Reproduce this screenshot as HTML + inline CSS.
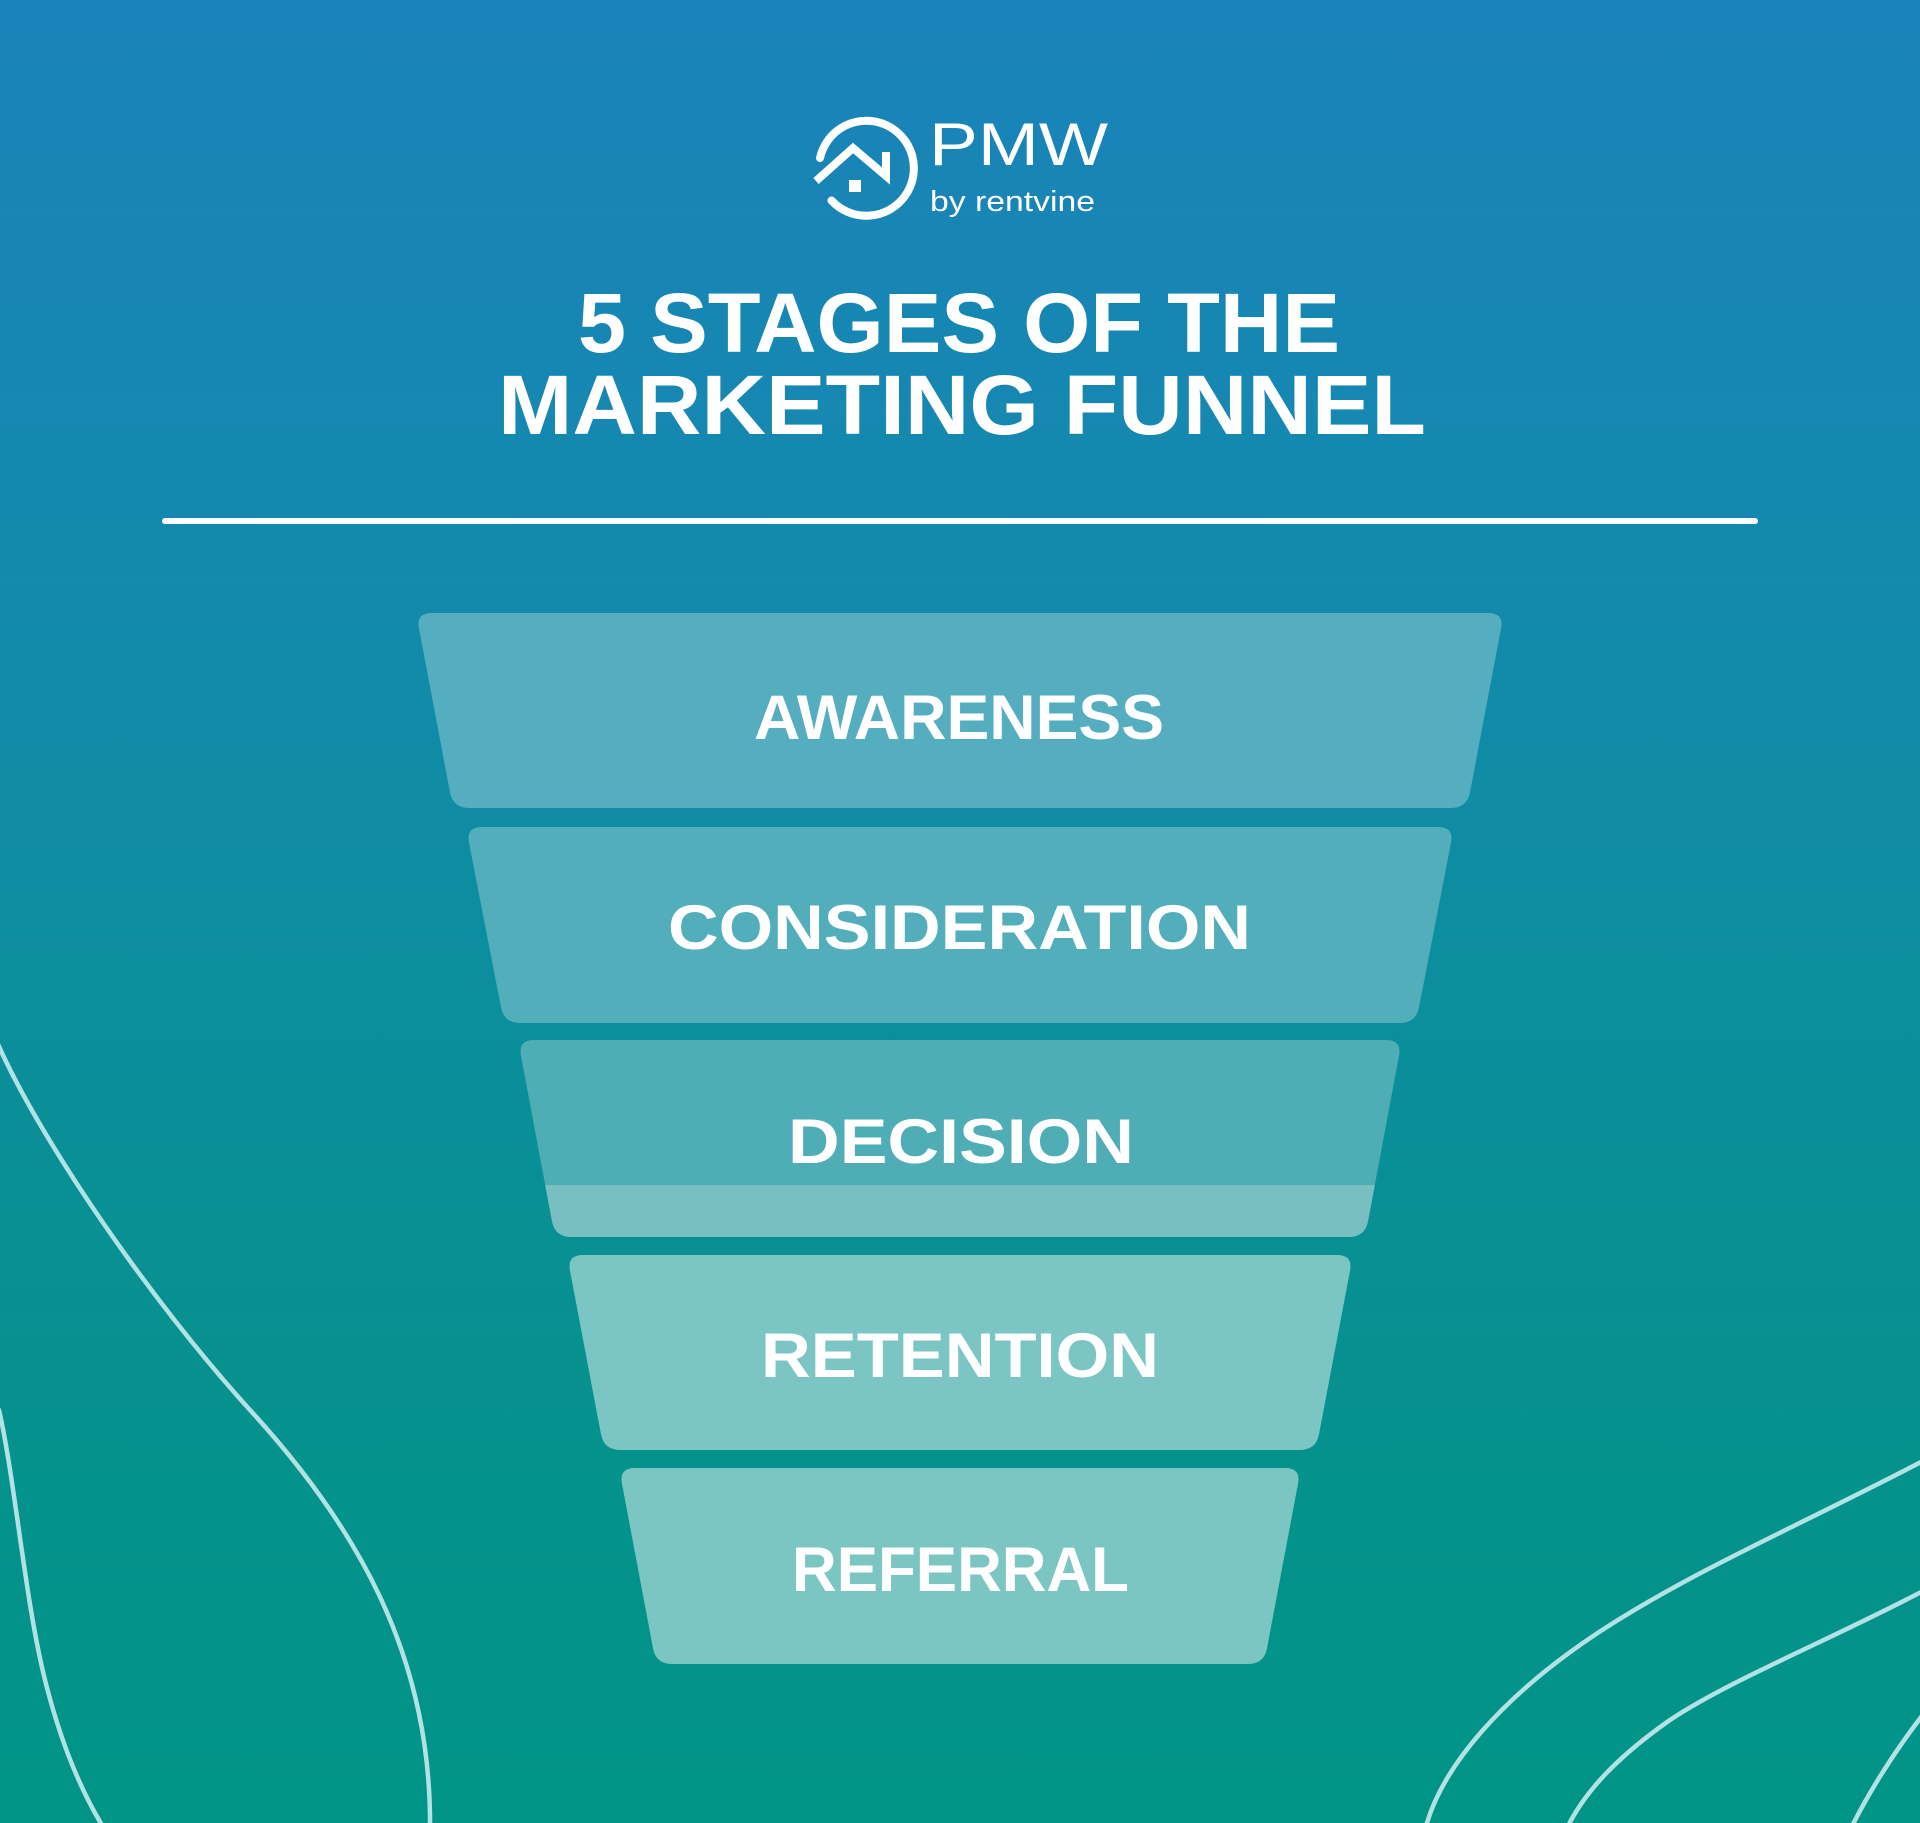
<!DOCTYPE html>
<html>
<head>
<meta charset="utf-8">
<style>
html,body{margin:0;padding:0;width:1920px;height:1823px;overflow:hidden;}
svg{display:block;}
</style>
</head>
<body>
<svg width="1920" height="1823" viewBox="0 0 1920 1823" xmlns="http://www.w3.org/2000/svg">
  <defs>
    <linearGradient id="bg" x1="0" y1="0" x2="0" y2="1">
      <stop offset="0" stop-color="#1a83ba"/>
      <stop offset="0.3" stop-color="#1489ae"/>
      <stop offset="0.55" stop-color="#0c8e9d"/>
      <stop offset="0.75" stop-color="#06918f"/>
      <stop offset="1" stop-color="#009486"/>
    </linearGradient>
    <clipPath id="decClip">
      <path d="M534,1040 L1386,1040 Q1402,1040 1399,1055.7 L1368,1221.3 Q1365,1237 1349,1237 L571,1237 Q555,1237 552,1221.3 L521,1055.7 Q518,1040 534,1040 Z"/>
    </clipPath>
  </defs>

  <rect x="0" y="0" width="1920" height="1823" fill="url(#bg)"/>

  <!-- decorative curves -->
  <g fill="none" stroke="#b3e2e4" stroke-width="4.5" stroke-linecap="round">
    <path d="M-3,1042 C40,1140 150,1300 250,1410 C360,1530 432,1660 430,1830"/>
    <path d="M-1,1410 C15,1480 25,1600 45,1680 C60,1740 80,1790 105,1830"/>
    <path d="M1925,1460 C1800,1525 1700,1568 1610,1625 C1500,1695 1440,1770 1425,1830"/>
    <path d="M1925,1590 C1830,1640 1730,1680 1670,1720 C1620,1755 1585,1790 1566,1830"/>
    <path d="M1925,1712 Q1880,1770 1850,1830"/>
  </g>

  <!-- logo -->
  <g fill="none" stroke="#ffffff" stroke-width="8">
    <path d="M820,158 A47.5,47.5 0 1 1 831.5,200.5" stroke-linecap="round"/>
    <polyline points="816,181 853,148 886,176 886,152" stroke-linejoin="miter" stroke-linecap="butt"/>
  </g>
  <rect x="849" y="180" width="12" height="12" fill="#ffffff"/>
  <text x="929" y="165" font-family="Liberation Sans, Arial, sans-serif" font-size="60" fill="#ffffff" textLength="179" lengthAdjust="spacingAndGlyphs">PMW</text>
  <text x="930" y="211" font-family="Liberation Sans, Arial, sans-serif" font-size="29" fill="#ffffff" textLength="165" lengthAdjust="spacingAndGlyphs">by rentvine</text>

  <!-- title -->
  <g font-family="Liberation Sans, Arial, sans-serif" font-weight="bold" font-size="84" fill="#ffffff">
    <text x="578" y="352" textLength="762" lengthAdjust="spacingAndGlyphs">5 STAGES OF THE</text>
    <text x="498" y="434" textLength="928" lengthAdjust="spacingAndGlyphs">MARKETING FUNNEL</text>
  </g>

  <!-- divider -->
  <line x1="165" y1="521" x2="1755" y2="521" stroke="#ffffff" stroke-width="6" stroke-linecap="round"/>

  <!-- funnel -->
  <path d="M432,613 L1488,613 Q1504,613 1501,628.7 L1470,792.3 Q1467,808 1451,808 L469,808 Q453,808 450,792.3 L419,628.7 Q416,613 432,613 Z" fill="#54aebf"/>
  <path d="M482,827 L1438,827 Q1454,827 1451,842.7 L1419,1007.3 Q1416,1023 1400,1023 L520,1023 Q504,1023 501,1007.3 L469,842.7 Q466,827 482,827 Z" fill="#52aebb"/>
  <path d="M534,1040 L1386,1040 Q1402,1040 1399,1055.7 L1368,1221.3 Q1365,1237 1349,1237 L571,1237 Q555,1237 552,1221.3 L521,1055.7 Q518,1040 534,1040 Z" fill="#4faeb5"/>
  <rect x="500" y="1185" width="920" height="60" fill="#79bec0" clip-path="url(#decClip)"/>
  <path d="M583,1255 L1337,1255 Q1353,1255 1350,1270.7 L1319,1434.3 Q1316,1450 1300,1450 L620,1450 Q604,1450 601,1434.3 L570,1270.7 Q567,1255 583,1255 Z" fill="#7bc5c4"/>
  <path d="M635,1468 L1285,1468 Q1301,1468 1298,1483.7 L1267,1648.3 Q1264,1664 1248,1664 L672,1664 Q656,1664 653,1648.3 L622,1483.7 Q619,1468 635,1468 Z" fill="#7bc6c2"/>

  <g font-family="Liberation Sans, Arial, sans-serif" font-weight="bold" font-size="63" fill="#ffffff">
    <text x="754" y="739" textLength="410" lengthAdjust="spacingAndGlyphs">AWARENESS</text>
    <text x="668" y="949" textLength="583" lengthAdjust="spacingAndGlyphs">CONSIDERATION</text>
    <text x="788" y="1163" textLength="346" lengthAdjust="spacingAndGlyphs">DECISION</text>
    <text x="761" y="1377" textLength="398" lengthAdjust="spacingAndGlyphs">RETENTION</text>
    <text x="792" y="1591" textLength="337" lengthAdjust="spacingAndGlyphs">REFERRAL</text>
  </g>
</svg>
</body>
</html>
